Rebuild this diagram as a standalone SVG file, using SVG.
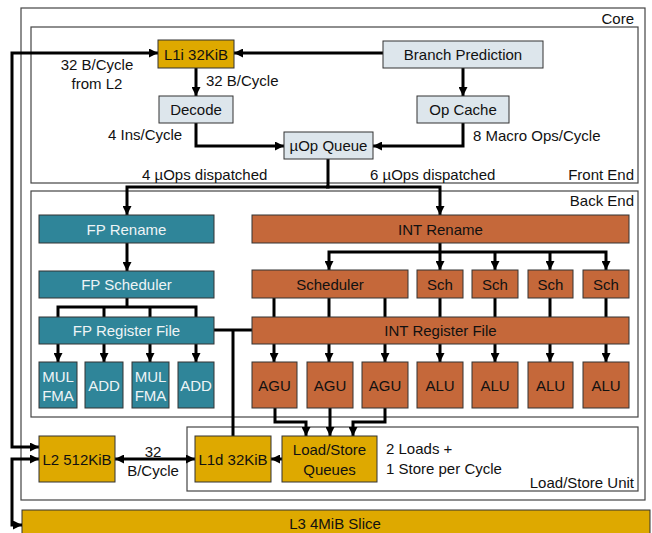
<svg xmlns="http://www.w3.org/2000/svg" width="652" height="533" viewBox="0 0 652 533">
<style>
text{font-family:"Liberation Sans",Arial,sans-serif;font-size:15px;fill:#111}
.c{text-anchor:middle;dominant-baseline:central}
.r{text-anchor:end}
.box{stroke:#333;stroke-width:1}
.gold{fill:#DEA900}
.light{fill:#DDE6EC}
.fp{fill:#2F8599}
.int{fill:#C5683A}
.fpt{fill:#EEF4F6}
.cont{fill:none;stroke:#444;stroke-width:1.2}
.cn path{fill:none;stroke:#000;stroke-width:3;stroke-linejoin:miter}
.a{marker-end:url(#ah)}
.b{marker-start:url(#ah);marker-end:url(#ah)}
</style>
<defs>
<marker id="ah" viewBox="0 0 10 10" refX="10" refY="5" markerWidth="9" markerHeight="9" markerUnits="userSpaceOnUse" orient="auto-start-reverse">
<path d="M0,0 L10,5 L0,10 z" fill="#000"/>
</marker>
</defs>
<rect width="652" height="533" fill="#fff"/>

<g id="core">
<rect class="cont" x="21" y="8" width="624" height="492" stroke="#666"/>
<text class="r" x="634" y="24">Core</text>
</g>
<g id="frontend">
<rect class="cont" x="31" y="27" width="607" height="156"/>
<text class="r" x="634" y="180">Front End</text>
</g>
<g id="backend">
<rect class="cont" x="31" y="191" width="607" height="226"/>
<text class="r" x="634" y="206">Back End</text>
</g>
<g id="lsu">
<rect class="cont" x="187" y="427" width="451" height="64"/>
<text class="r" x="634" y="488">Load/Store Unit</text>
</g>

<g id="l3"><rect class="box gold" x="22" y="510" width="628" height="30"/><text class="c" x="335" y="523">L3 4MiB Slice</text></g>

<g class="cn">
<path class="b" d="M39,447 L12,447 L12,53 L158,53"/>
<path class="b" d="M39,459 L12,459 L12,525 L22,525"/>
<path class="a" d="M383,53 L234,53"/>
<path class="a" d="M463,68 L463,96"/>
<path class="a" d="M196,68 L196,96"/>
<path class="a" d="M196,123 L196,146 L284,146"/>
<path class="a" d="M463,123 L463,146 L373,146"/>
<path class="a" d="M328,159 L328,187 L127,187 L127,215"/>
<path class="a" d="M326,187 L440,187 L440,215"/>
<path class="a" d="M127,243 L127,271"/>
<path d="M127,298 L127,307"/>
<path d="M58,317 L58,307 L196,307 L196,317"/>
<path d="M104,307 L104,317"/>
<path d="M150,307 L150,317"/>
<path class="a" d="M58,344 L58,362"/>
<path class="a" d="M104,344 L104,362"/>
<path class="a" d="M150,344 L150,362"/>
<path class="a" d="M196,344 L196,362"/>
<path d="M214,330 L252,330"/>
<path d="M233,330 L233,436"/>
<path class="a" d="M440,243 L440,270"/>
<path class="b" d="M329,270 L329,252 L606,252 L606,270"/>
<path class="a" d="M495,252 L495,270"/>
<path class="a" d="M550,252 L550,270"/>
<path d="M274,298 L274,317"/>
<path d="M329,298 L329,317"/>
<path d="M385,298 L385,317"/>
<path d="M440,298 L440,317"/>
<path d="M495,298 L495,317"/>
<path d="M550,298 L550,317"/>
<path d="M606,298 L606,317"/>
<path class="a" d="M274,344 L274,362"/>
<path class="a" d="M329,344 L329,362"/>
<path class="a" d="M385,344 L385,362"/>
<path class="a" d="M440,344 L440,362"/>
<path class="a" d="M495,344 L495,362"/>
<path class="a" d="M550,344 L550,362"/>
<path class="a" d="M606,344 L606,362"/>
<path class="a" d="M275,408 L275,422 L306,422 L306,436"/>
<path class="a" d="M330,408 L330,436"/>
<path class="a" d="M385,408 L385,422 L353,422 L353,436"/>
<path class="a" d="M282,459 L271,459"/>
<path class="b" d="M115,459 L195,459"/>
</g>

<g id="labels">
<text class="c" x="97" y="64">32 B/Cycle</text>
<text class="c" x="97" y="83">from L2</text>
<text x="206" y="86">32 B/Cycle</text>
<text x="108" y="140">4 Ins/Cycle</text>
<text x="473" y="141">8 Macro Ops/Cycle</text>
<text x="142" y="180">4 µOps dispatched</text>
<text x="370" y="180">6 µOps dispatched</text>
<text class="c" x="153" y="451">32</text>
<text class="c" x="153" y="470">B/Cycle</text>
<text x="386" y="454">2 Loads +</text>
<text x="386" y="474">1 Store per Cycle</text>
</g>

<g id="l1i"><rect class="box gold" x="158" y="40" width="76" height="28"/><text class="c" x="196" y="54">L1i 32KiB</text></g>
<g id="branch"><rect class="box light" x="383" y="41" width="160" height="27"/><text class="c" x="463" y="54.5">Branch Prediction</text></g>
<g id="decode"><rect class="box light" x="159" y="96" width="74" height="27"/><text class="c" x="196" y="109.5">Decode</text></g>
<g id="opcache"><rect class="box light" x="417" y="96" width="92" height="27"/><text class="c" x="463" y="109.5">Op Cache</text></g>
<g id="uopq"><rect class="box light" x="284" y="132" width="89" height="27"/><text class="c" x="328.5" y="145.5">µOp Queue</text></g>

<g id="fprename"><rect class="box fp" x="39" y="215" width="175" height="28"/><text class="c fpt" x="126.5" y="229">FP Rename</text></g>
<g id="fpsched"><rect class="box fp" x="39" y="271" width="175" height="27"/><text class="c fpt" x="126.5" y="284.5">FP Scheduler</text></g>
<g id="fprf"><rect class="box fp" x="39" y="317" width="175" height="27"/><text class="c fpt" x="126.5" y="330.5">FP Register File</text></g>
<g id="fpu1"><rect class="box fp" x="39" y="362" width="38" height="46"/><text class="c fpt" x="58" y="376">MUL</text><text class="c fpt" x="58" y="395">FMA</text></g>
<g id="fpu2"><rect class="box fp" x="85" y="362" width="38" height="46"/><text class="c fpt" x="104" y="385">ADD</text></g>
<g id="fpu3"><rect class="box fp" x="132" y="362" width="37" height="46"/><text class="c fpt" x="150.5" y="376">MUL</text><text class="c fpt" x="150.5" y="395">FMA</text></g>
<g id="fpu4"><rect class="box fp" x="178" y="362" width="36" height="46"/><text class="c fpt" x="196" y="385">ADD</text></g>

<g id="intrename"><rect class="box int" x="252" y="215" width="377" height="28"/><text class="c" x="440.5" y="229">INT Rename</text></g>
<g id="sched"><rect class="box int" x="252" y="270" width="156" height="28"/><text class="c" x="330" y="284">Scheduler</text></g>
<g id="sch1"><rect class="box int" x="417" y="270" width="46" height="28"/><text class="c" x="440" y="284">Sch</text></g>
<g id="sch2"><rect class="box int" x="472" y="270" width="46" height="28"/><text class="c" x="495" y="284">Sch</text></g>
<g id="sch3"><rect class="box int" x="528" y="270" width="45" height="28"/><text class="c" x="550.5" y="284">Sch</text></g>
<g id="sch4"><rect class="box int" x="583" y="270" width="46" height="28"/><text class="c" x="606" y="284">Sch</text></g>
<g id="intrf"><rect class="box int" x="252" y="317" width="377" height="27"/><text class="c" x="440.5" y="330.5">INT Register File</text></g>
<g id="agu1"><rect class="box int" x="252" y="362" width="45" height="46"/><text class="c" x="274.5" y="385">AGU</text></g>
<g id="agu2"><rect class="box int" x="307" y="362" width="46" height="46"/><text class="c" x="330" y="385">AGU</text></g>
<g id="agu3"><rect class="box int" x="362" y="362" width="46" height="46"/><text class="c" x="385" y="385">AGU</text></g>
<g id="alu1"><rect class="box int" x="417" y="362" width="46" height="46"/><text class="c" x="440" y="385">ALU</text></g>
<g id="alu2"><rect class="box int" x="472" y="362" width="46" height="46"/><text class="c" x="495" y="385">ALU</text></g>
<g id="alu3"><rect class="box int" x="528" y="362" width="45" height="46"/><text class="c" x="550.5" y="385">ALU</text></g>
<g id="alu4"><rect class="box int" x="583" y="362" width="46" height="46"/><text class="c" x="606" y="385">ALU</text></g>

<g id="l2"><rect class="box gold" x="39" y="436" width="76" height="46"/><text class="c" x="77" y="459">L2 512KiB</text></g>
<g id="l1d"><rect class="box gold" x="195" y="436" width="76" height="46"/><text class="c" x="233" y="459">L1d 32KiB</text></g>
<g id="lsq"><rect class="box gold" x="282" y="436" width="95" height="46"/><text class="c" x="329.5" y="449">Load/Store</text><text class="c" x="329.5" y="469">Queues</text></g>
</svg>
